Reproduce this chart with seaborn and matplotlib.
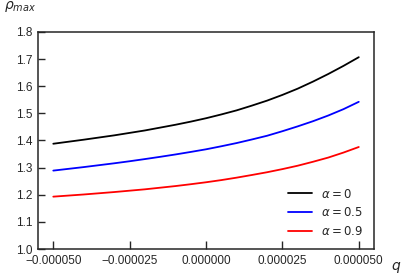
import numpy as np
import pandas as pd
import seaborn as sns
import matplotlib
matplotlib.use("Agg")
import matplotlib.pyplot as plt
import matplotlib.ticker as mt

# values
q = [-5e-5, -4.5e-5, -4e-5, -3.5e-5, -3e-5, -2.5e-5, -2e-5, -1.5e-5, -1e-5, -0.5e-5, 0.0,
     0.5e-5, 1e-5, 1.5e-5, 2e-5, 2.5e-5, 3e-5, 3.5e-5, 4e-5, 4.5e-5, 5e-5]
rho_a0 = [1.388, 1.3955, 1.403, 1.411, 1.419, 1.428, 1.437, 1.4475, 1.458, 1.4695, 1.482,
          1.496, 1.511, 1.5285, 1.547, 1.568, 1.591, 1.617, 1.645, 1.675, 1.707]
rho_a05 = [1.289, 1.2955, 1.302, 1.309, 1.316, 1.3235, 1.3315, 1.3398, 1.3485, 1.3578, 1.3675,
           1.3787, 1.3905, 1.4037, 1.4175, 1.4342, 1.452, 1.471, 1.492, 1.5155, 1.5425]
rho_a09 = [1.193, 1.197, 1.201, 1.2055, 1.210, 1.215, 1.220, 1.226, 1.232, 1.2388, 1.246,
           1.254, 1.263, 1.2728, 1.283, 1.2945, 1.307, 1.3215, 1.337, 1.3555, 1.376]
labels = [r"$\alpha = 0$", r"$\alpha = 0.5$", r"$\alpha = 0.9$"]
colors = ["black", "blue", "red"]
xticks = [-5e-5, -2.5e-5, 0.0, 2.5e-5, 5e-5]
yticks = [1.0, 1.1, 1.2, 1.3, 1.4, 1.5, 1.6, 1.7, 1.8]

sns.set_style("ticks")
plt.rcParams["font.family"] = ["Liberation Sans", "DejaVu Sans"]
plt.rcParams["xtick.direction"] = "in"
plt.rcParams["ytick.direction"] = "in"

fig = plt.figure(figsize=(4.07, 2.78), dpi=100)
ax = fig.add_axes([0.0934, 0.1043, 0.8256, 0.7807])

for ys, lab, c in zip([rho_a0, rho_a05, rho_a09], labels, colors):
    sns.lineplot(x=q, y=ys, color=c, label=lab, linewidth=1.3, ax=ax)

ax.set_ylim(1.0, 1.8)
ax.set_xticks(xticks)
ax.set_yticks(yticks)
ax.xaxis.set_major_formatter(mt.FuncFormatter(lambda v, p: ("%.6f" % v).replace("-", "\u2212")))
ax.yaxis.set_major_formatter(mt.FormatStrFormatter("%.1f"))
ax.tick_params(axis="both", labelsize=8.5, colors="#262626", width=1)
ax.tick_params(axis="x", length=6, pad=4)
ax.tick_params(axis="y", length=5, pad=4)
for s in ax.spines.values():
    s.set_color("#262626")
    s.set_linewidth(1.1)

ax.set_ylabel(r"$\rho_{max}$", rotation=0, fontsize=10)
ax.yaxis.set_label_coords(-0.054, 1.085)
ax.set_xlabel(r"$q$", fontsize=10)
ax.xaxis.set_label_coords(1.065, -0.05)

leg = ax.legend(loc="lower right", frameon=False, fontsize=8.5)

fig.savefig("out.png", dpi=100)
